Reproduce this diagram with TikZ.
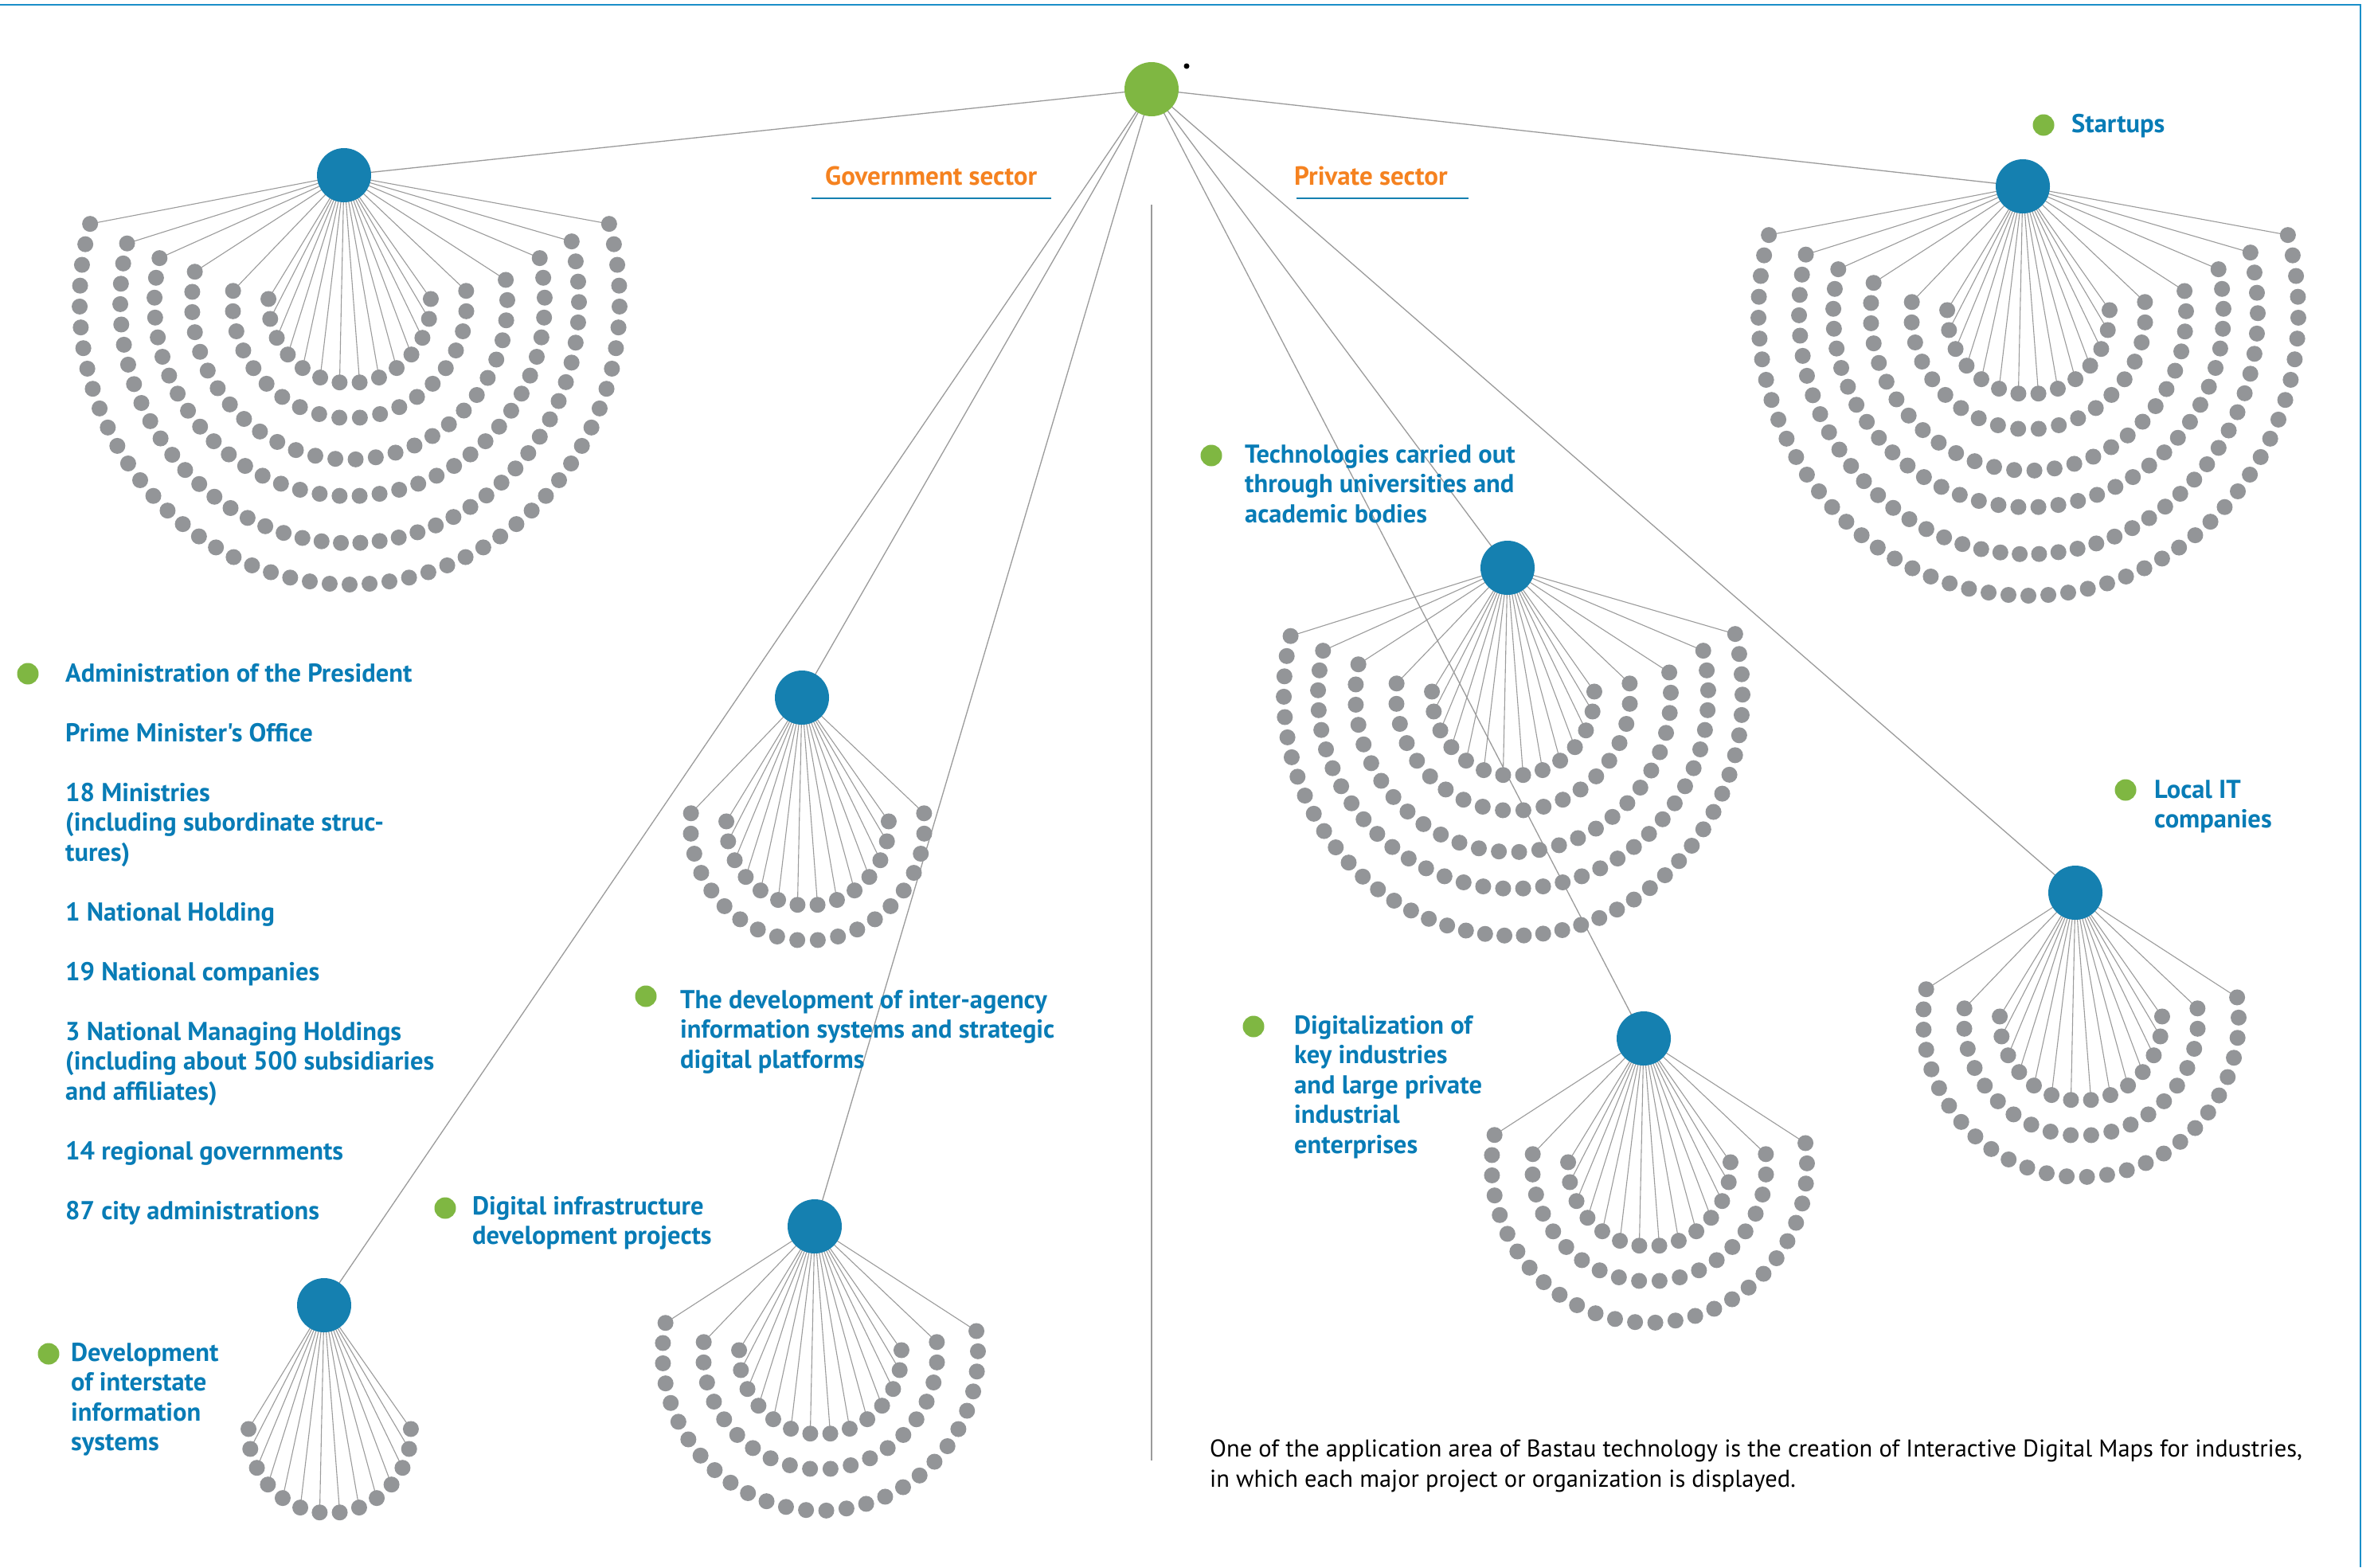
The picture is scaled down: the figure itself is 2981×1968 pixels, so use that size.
\documentclass[tikz,border=0pt]{standalone}
\usepackage{fontspec}
\newfontfamily\labfont{PT Sans}
\definecolor{hubblue}{RGB}{21,128,176}
\definecolor{rootgreen}{RGB}{127,183,66}
\definecolor{dotgray}{RGB}{147,149,152}
\definecolor{linegray}{RGB}{155,155,155}
\definecolor{textblue}{RGB}{8,124,182}
\definecolor{secorange}{RGB}{245,130,32}
\definecolor{borderblue}{RGB}{26,143,201}
\pgfdeclarelayer{bg}
\pgfsetlayers{bg,main}
\tikzset{
  hub/.style={circle, fill=hubblue, minimum size=68pt, inner sep=0pt},
  rootnode/.style={circle, fill=rootgreen, minimum size=68pt, inner sep=0pt},
  dot/.style={circle, fill=dotgray, minimum size=20pt, inner sep=0pt},
  bullet/.style={circle, fill=rootgreen, minimum size=27pt, inner sep=0pt},
  link/.style={draw=linegray, line width=1.1pt},
  rootlink/.style={draw=linegray, line width=1.3pt},
  lbl/.style={anchor=north west, inner sep=0pt, align=left, text=textblue,
    font=\labfont\bfseries\fontsize{32.5}{37.5}\selectfont},
  sector/.style={anchor=base west, inner sep=0pt, text=secorange,
    font=\labfont\bfseries\fontsize{33}{38}\selectfont},
  note/.style={anchor=north west, inner sep=0pt, align=left, text=black,
    font=\labfont\fontsize{30.5}{38}\selectfont},
  underl/.style={draw=hubblue, line width=2.6pt},
}
\newcommand\fl{\rule{0pt}{25pt}}
\newcommand\drawfan[4]{%
  \node[hub] (#1) at (#2,#3) {};
  \foreach \rx/\ry/\ta/\tb/\n [count=\k] in {102/102/182/-2/14,147/146/185.4/-5.4/20,198/198/191/-8/28,245/244/193/-13/36,288/303/194/-14.5/44,339/355/196/-16/51}{%
    \ifnum\k>#4\relax\else
      \pgfmathtruncatemacro\nm{\n-1}%
      \foreach \i in {0,...,\nm}{%
        \pgfmathsetmacro\ang{\ta+(\tb-\ta)*\i/\nm}%
        \node[dot] (#1-\k-\i) at ({#2+7+\rx*cos(\ang)},{#3+159+\ry*sin(\ang)}) {};
        \pgfmathtruncatemacro\con{(\k==1)||(\i==0)||(\i==\nm)}%
        \ifnum\con=1
          \begin{pgfonlayer}{bg}\draw[link] (#1.center) -- (#1-\k-\i.center);\end{pgfonlayer}
        \fi
      }%
    \fi
  }%
}
\begin{document}
\begin{tikzpicture}[x=1pt,y=-1pt]
\useasboundingbox (0,0) rectangle (2981,1968);
\begin{pgfonlayer}{bg}
\fill[white] (0,0) rectangle (2981,1968);
\end{pgfonlayer}
% frame
\coordinate (bl) at (0,6);
\coordinate (bc) at (2964,6);
\coordinate (br) at (2964,1968);
\draw[draw=borderblue, line width=2.5pt] (bl) -- (bc) -- (br);
% separator
\coordinate (s1) at (1446,257);
\coordinate (s2) at (1446,1834);
\draw[rootlink] (s1) -- (s2);
% root
\node[rootnode] (root) at (1446,112) {};
\node[circle, fill=black, minimum size=7pt, inner sep=0pt] (mark) at (1490,83) {};
% fans
\drawfan{f1}{432}{220}{6}
\drawfan{f5}{2540}{234}{6}
\drawfan{f6}{1893}{713}{5}
\drawfan{f7}{2064}{1304}{3}
\drawfan{f8}{2606}{1121}{3}
\drawfan{f4}{1023}{1540}{3}
\drawfan{f2}{1007}{876}{2}
\drawfan{f3}{407}{1639}{1}
\begin{pgfonlayer}{bg}
\foreach \f in {f1,f2,f3,f4,f5,f6,f7,f8}{\draw[rootlink] (root.center) -- (\f.center);}
\end{pgfonlayer}
% sector titles
\node[sector] (gov) at (1036,232) {Government sector};
\node[sector] (priv) at (1625,232) {Private sector};
\coordinate (gu1) at (1019,249); \coordinate (gu2) at (1320,249);
\coordinate (pu1) at (1628,249); \coordinate (pu2) at (1844,249);
\draw[underl] (gu1) -- (gu2);
\draw[underl] (pu1) -- (pu2);
% labels
\node[bullet] (b1) at (35,846) {};
\node[lbl] (t1) at (82,831) {\fl Administration of the President\\[37.5pt]Prime Minister's Office\\[37.5pt]18 Ministries\\(including subordinate struc-\\tures)\\[37.5pt]1 National Holding\\[37.5pt]19 National companies\\[37.5pt]3 National Managing Holdings\\(including about 500 subsidiaries\\and affiliates)\\[37.5pt]14 regional governments\\[37.5pt]87 city administrations};
\node[bullet] (b2) at (2566,157) {};
\node[lbl] (t2) at (2601,141) {\fl Startups};
\node[bullet] (b3) at (1521,572) {};
\node[lbl] (t3) at (1563,556) {\fl Technologies carried out\\through universities and\\academic bodies};
\node[bullet] (b4) at (2669,992) {};
\node[lbl] (t4) at (2705,977) {\fl Local IT\\companies};
\node[bullet] (b5) at (1574,1289) {};
\node[lbl] (t5) at (1625,1273) {\fl Digitalization of\\key industries\\and large private\\industrial\\enterprises};
\node[bullet] (b6) at (811,1251) {};
\node[lbl] (t6) at (854,1241) {\fl The development of inter-agency\\information systems and strategic\\digital platforms};
\node[bullet] (b7) at (559,1517) {};
\node[lbl] (t7) at (593,1500) {\fl Digital infrastructure\\development projects};
\node[bullet] (b8) at (61,1700) {};
\node[lbl] (t8) at (89,1684) {\fl Development\\of interstate\\information\\systems};
\node[note] (t9) at (1519,1805) {\rule{0pt}{24pt}One of the application area of Bastau technology is the creation of Interactive Digital Maps for industries,\\in which each major project or organization is displayed.};
\end{tikzpicture}
\end{document}
